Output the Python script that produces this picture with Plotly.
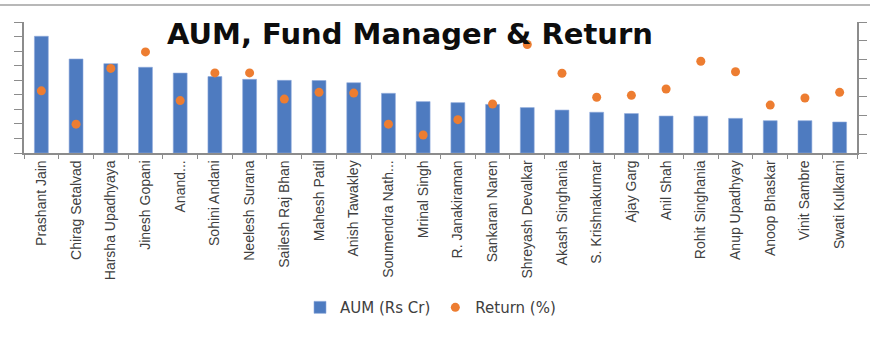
import plotly.graph_objects as go

managers = ["Prashant Jain", "Chirag Setalvad", "Harsha Upadhyaya", "Jinesh Gopani", "Anand...",
            "Sohini Andani", "Neelesh Surana", "Sailesh Raj Bhan", "Mahesh Patil", "Anish Tawakley",
            "Soumendra Nath...", "Mrinal Singh", "R. Janakiraman", "Sankaran Naren", "Shreyash Devalkar",
            "Akash Singhania", "S. Krishnakumar", "Ajay Garg", "Anil Shah", "Rohit Singhania",
            "Anup Upadhyay", "Anoop Bhaskar", "Vinit Sambre", "Swati Kulkarni"]
aum = [40100, 32300, 30700, 29450, 27450, 26250, 25300, 24950, 24900, 24150,
       20500, 17650, 17300, 16700, 15600, 14750, 14000, 13550, 12700, 12650,
       11900, 11100, 11100, 10650]
ret = [16.6, 7.7, 22.6, 27.0, 14.0, 21.4, 21.4, 14.4, 16.2, 16.0,
       7.7, 4.8, 8.9, 13.1, 29.0, 21.3, 14.9, 15.4, 17.1, 24.5,
       21.7, 12.8, 14.7, 16.2]

AX = "#8c8c8c"
fig = go.Figure()
fig.add_trace(go.Bar(x=managers, y=aum, name="AUM (Rs Cr)", width=0.4,
                     marker=dict(color="#4e7bc0", line=dict(color="#8eaadb", width=0.6))))
fig.add_trace(go.Scatter(x=managers, y=ret, name="Return (%)", mode="markers", yaxis="y2",
                         marker=dict(color="#ed7d31", size=9)))

fig.update_layout(
    width=870, height=355,
    margin=dict(l=24, r=13, t=22, b=202, autoexpand=False),
    plot_bgcolor="white", paper_bgcolor="white",
    showlegend=True,
    legend=dict(orientation="h", x=0.488, xanchor="center", y=-1.18, yanchor="middle",
                font=dict(family="DejaVu Sans", size=15, color="#404040"),
                itemwidth=30, tracegroupgap=0),
    xaxis=dict(type="category", range=[-0.5, len(managers) - 0.5], automargin=False,
               tickson="boundaries", ticks="outside", ticklen=4,
               tickcolor=AX, showline=True, linecolor=AX, linewidth=1.5, showgrid=False,
               tickangle=-90, tickfont=dict(family="Liberation Sans", size=14, color="#404040")),
    yaxis=dict(range=[0, 45000], dtick=5000, showticklabels=False, ticks="outside", ticklen=8,
               automargin=False, tickcolor=AX, showline=True, linecolor=AX, linewidth=1.5,
               showgrid=False, zeroline=False),
    yaxis2=dict(range=[0, 35], dtick=5, overlaying="y", side="right", showticklabels=False,
                automargin=False, ticks="outside", ticklen=8, tickcolor=AX, showline=True,
                linecolor=AX, linewidth=1.5, showgrid=False, zeroline=False),
    annotations=[dict(text="<b>AUM, Fund Manager & Return</b>", xref="paper", yref="paper",
                      x=0.463, y=0.908, xanchor="center", yanchor="middle", showarrow=False,
                      font=dict(family="DejaVu Sans", size=29, color="#0d0d0d"))],
    shapes=[dict(type="line", xref="paper", yref="paper", x0=-0.03, x1=1.02,
                 y0=(153 - 5) / 131, y1=(153 - 5) / 131, line=dict(color="#a0a0a0", width=1.5))],
)
fig.write_html("out.html")
